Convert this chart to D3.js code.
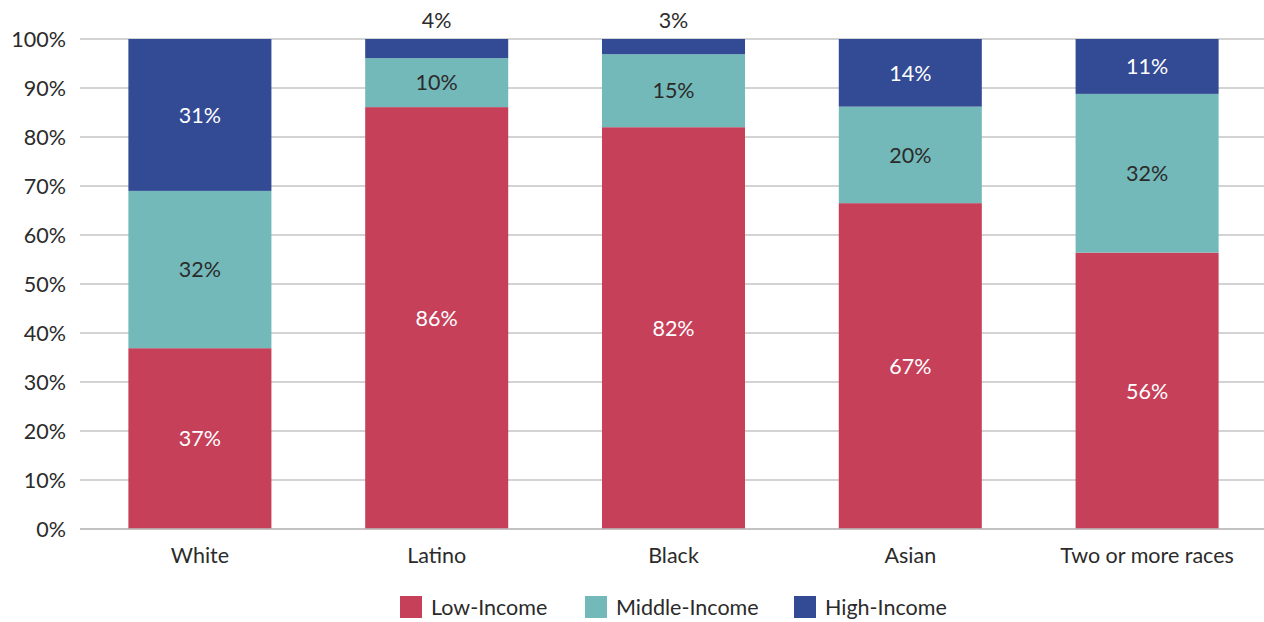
<!DOCTYPE html>
<html>
<head>
<meta charset="utf-8">
<script src="https://cdn.jsdelivr.net/npm/d3@7"></script>
<style>
  body { margin: 0; background: #fff; }
  svg { display: block; }
  text { font-family: "Lato", "Open Sans", sans-serif; }
</style>
</head>
<body>
<svg id="chart" width="1264" height="622"></svg>
<script>
const categories = ["White", "Latino", "Black", "Asian", "Two or more races"];
const seriesNames = ["Low-Income", "Middle-Income", "High-Income"];
const lowIncome = [36.9, 86.1, 82.0, 66.5, 56.4];
const middleIncome = [32.1, 10.0, 14.9, 19.7, 32.4];
const highIncome = [31.0, 3.9, 3.1, 13.8, 11.2];
const yTicks = [0, 10, 20, 30, 40, 50, 60, 70, 80, 90, 100];

const colors = ["#C7405A", "#74B9B9", "#334A94"];
const labelColors = ["#ffffff", "#2b2b2b", "#ffffff"];

const rows = categories.map((c, i) => ({
  cat: c,
  "Low-Income": lowIncome[i],
  "Middle-Income": middleIncome[i],
  "High-Income": highIncome[i]
}));

const svg = d3.select("#chart");
const plotLeft = 80, plotRight = 1264, plotTop = 39, plotBottom = 529;
const fs = 21.5;

const x = d3.scaleBand().domain(categories).range([plotLeft + 1.5, plotRight + 1.5])
  .paddingInner(0.396).paddingOuter(0.198);
const y = d3.scaleLinear().domain([0, 100]).range([plotBottom, plotTop]);

// gridlines
svg.append("g").selectAll("line").data(yTicks).join("line")
  .attr("x1", plotLeft).attr("x2", plotRight)
  .attr("y1", d => y(d)).attr("y2", d => y(d))
  .attr("stroke", "#c4c4c4").attr("stroke-width", 1.3);

// y labels
svg.append("g").selectAll("text").data(yTicks).join("text")
  .attr("x", 66).attr("y", d => y(d))
  .attr("dy", "0.36em")
  .attr("text-anchor", "end")
  .attr("font-size", fs)
  .attr("fill", "#2b2b2b")
  .text(d => d + "%");

const stack = d3.stack().keys(seriesNames)(rows);

const groups = svg.append("g").selectAll("g").data(stack).join("g")
  .attr("fill", (d, i) => colors[i]);

groups.selectAll("rect").data(d => d).join("rect")
  .attr("x", d => x(d.data.cat))
  .attr("width", x.bandwidth())
  .attr("y", d => y(d[1]))
  .attr("height", d => y(d[0]) - y(d[1]));

// axis baseline
svg.append("line").attr("x1", plotLeft).attr("x2", plotRight)
  .attr("y1", y(0)).attr("y2", y(0))
  .attr("stroke", "#bdbdbd").attr("stroke-width", 1.5);

// segment labels
stack.forEach((s, si) => {
  svg.append("g").selectAll("text").data(s).join("text")
    .attr("x", d => x(d.data.cat) + x.bandwidth() / 2)
    .attr("y", d => {
      const v = d[1] - d[0];
      if (v < 5) return y(100) - 19;
      return y((d[0] + d[1]) / 2);
    })
    .attr("dy", "0.36em")
    .attr("text-anchor", "middle")
    .attr("font-size", fs)
    .attr("fill", d => (d[1] - d[0]) < 5 ? "#2b2b2b" : labelColors[si])
    .text(d => Math.round(d[1] - d[0]) + "%");
});

// x labels
svg.append("g").selectAll("text").data(categories).join("text")
  .attr("x", d => x(d) + x.bandwidth() / 2)
  .attr("y", 555)
  .attr("dy", "0.36em")
  .attr("text-anchor", "middle")
  .attr("font-size", fs)
  .attr("fill", "#2b2b2b")
  .text(d => d);

// legend
const legendX = [400, 585, 794];
const legend = svg.append("g").selectAll("g").data(seriesNames).join("g")
  .attr("transform", (d, i) => `translate(${legendX[i]},596)`);
legend.append("rect").attr("width", 22).attr("height", 22)
  .attr("fill", (d, i) => colors[i]);
legend.append("text").attr("x", 31).attr("y", 11).attr("dy", "0.36em")
  .attr("font-size", fs).attr("fill", "#2b2b2b").text(d => d);
</script>
</body>
</html>
